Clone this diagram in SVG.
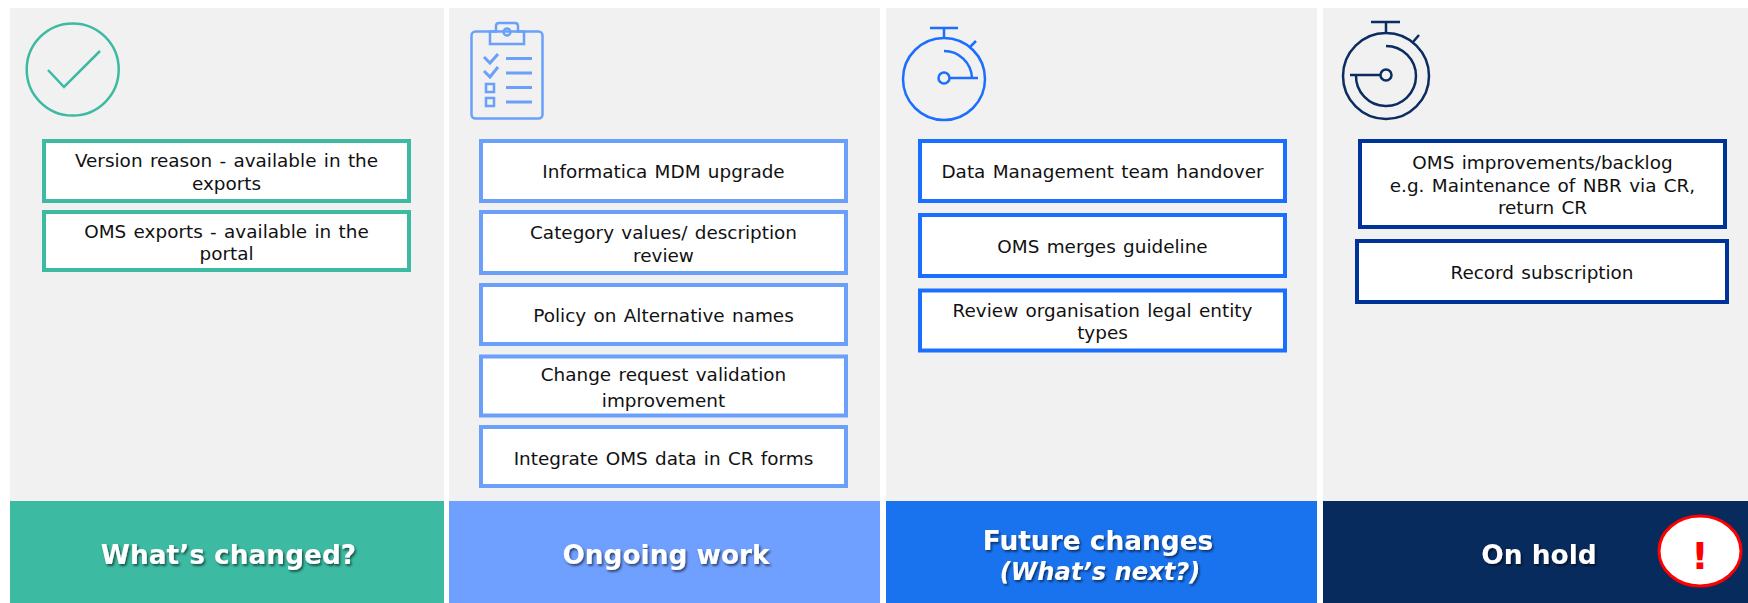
<svg xmlns="http://www.w3.org/2000/svg" width="1748" height="603" viewBox="0 0 1748 603">
<defs><filter id="sh" x="-10%" y="-20%" width="120%" height="140%"><feDropShadow dx="1.5" dy="2" stdDeviation="0.8" flood-color="#000" flood-opacity="0.55"/></filter></defs>
<style>
text{font-family:"DejaVu Sans",Verdana,sans-serif}
.panel{fill:#f1f1f1}
.b{fill:#fff;stroke-width:4}
.t{font-size:18.4px;fill:#111;text-anchor:middle;word-spacing:1.5px}
.h{font-size:26.4px;font-weight:700;fill:#fff;text-anchor:middle;filter:url(#sh)}
.ic{fill:none;stroke-width:2.5}
.g{stroke:#3cbaa2}.l{stroke:#6aa0fa}.m{stroke:#1a6fff}.d{stroke:#00339a}.n{stroke:#0a2c60}
</style>
<rect width="1748" height="603" fill="#fff"/>
<g id="col1">
<rect class="panel" x="10" y="8" width="434" height="493"/>
<rect x="10" y="501" width="434" height="102" fill="#3cbaa2"/>
<text class="h" x="228.500" y="564">What’s changed?</text>
<g class="ic g"><circle cx="72.7" cy="69.5" r="46"/><path d="M48 70L64 87L100 51"/></g>
</g>
<g id="col2">
<rect class="panel" x="449" y="8" width="431" height="493"/>
<rect x="449" y="501" width="431" height="102" fill="#6f9fff"/>
<text class="h" x="666" y="564">Ongoing work</text>
<g class="ic l"><rect x="471.500" y="31.5" width="71" height="87" rx="4"/><path d="M490 31.500V44H524V31.500H518V26Q518 23 515 23H499Q496 23 496 26V31.500Z"/><circle cx="507" cy="32" r="3.500"/><path d="M484 57L490 63L498 54M484 71L490 77L498 67M506 58.500H532M506 73H532M506 87.500H532M506 102H532" stroke-width="3"/><rect x="486" y="84" width="8" height="8"/><rect x="486" y="98" width="8" height="8"/></g>
</g>
<g id="col3">
<rect class="panel" x="886" y="8" width="431" height="493"/>
<rect x="886" y="501" width="431" height="102" fill="#1a73ee"/>
<text class="h" x="1098" y="550">Future changes</text>
<text class="h" x="1100" y="580" font-style="italic" style="font-size:24.2px">(What’s next?)</text>
<g class="ic m"><circle cx="944" cy="79" r="41"/><path d="M930 28H958M944 28V38M970 47L976 41M944 51A28 28 0 0 1 972 78M950 78H978"/><circle cx="944" cy="78" r="5.500"/></g>
</g>
<g id="col4">
<rect class="panel" x="1323" y="8" width="425" height="493"/>
<rect x="1323" y="501" width="425" height="102" fill="#082b5e"/>
<text class="h" x="1539" y="564">On hold</text>
<g class="ic n"><circle cx="1386" cy="76" r="43"/><path d="M1371 22H1400M1386 22V33M1413 42L1419 35M1386 46A30 30 0 1 1 1356 75M1350 75H1380"/><circle cx="1386" cy="75" r="5.500"/></g>
<ellipse cx="1700" cy="551" rx="41" ry="35" fill="#fff" stroke="#f00" stroke-width="3"/>
<text x="1700" y="569" text-anchor="middle" font-size="38" font-weight="700" fill="#f00">!</text>
</g>
<g id="connectors"></g>
<g id="a1"><rect class="b g" x="44" y="141" width="365" height="60"/><text class="t" x="226.500" y="167">Version reason - available in the</text><text class="t" x="226.500" y="190">exports</text></g>
<g id="a2"><rect class="b g" x="44" y="212" width="365" height="58"/><text class="t" x="226.500" y="238">OMS exports - available in the</text><text class="t" x="226.500" y="260">portal</text></g>
<g id="b1"><rect class="b l" x="481" y="141" width="365" height="60"/><text class="t" x="663.500" y="178">Informatica MDM upgrade</text></g>
<g id="b2"><rect class="b l" x="481" y="212" width="365" height="61"/><text class="t" x="663.500" y="239">Category values/ description</text><text class="t" x="663.500" y="262">review</text></g>
<g id="b3"><rect class="b l" x="481" y="285" width="365" height="59"/><text class="t" x="663.500" y="322">Policy on Alternative names</text></g>
<g id="b4"><rect class="b l" x="481" y="356.500" width="365" height="59"/><text class="t" x="663.500" y="381">Change request validation</text><text class="t" x="663.500" y="407">improvement</text></g>
<g id="b5"><rect class="b l" x="481" y="427" width="365" height="59"/><text class="t" x="663.500" y="465">Integrate OMS data in CR forms</text></g>
<g id="c1"><rect class="b m" x="920" y="141" width="365" height="60"/><text class="t" x="1102.500" y="178">Data Management team handover</text></g>
<g id="c2"><rect class="b m" x="920" y="215" width="365" height="61"/><text class="t" x="1102.500" y="253">OMS merges guideline</text></g>
<g id="c3"><rect class="b m" x="920" y="290.500" width="365" height="60"/><text class="t" x="1102.500" y="317">Review organisation legal entity</text><text class="t" x="1102.500" y="339">types</text></g>
<g id="d1"><rect class="b d" x="1360" y="141" width="365" height="86"/><text class="t" x="1542.500" y="169">OMS improvements/backlog</text><text class="t" x="1542.500" y="192">e.g. Maintenance of NBR via CR,</text><text class="t" x="1542.500" y="214">return CR</text></g>
<g id="d2"><rect class="b d" x="1357" y="241" width="370" height="61"/><text class="t" x="1542" y="279">Record subscription</text></g>
</svg>
